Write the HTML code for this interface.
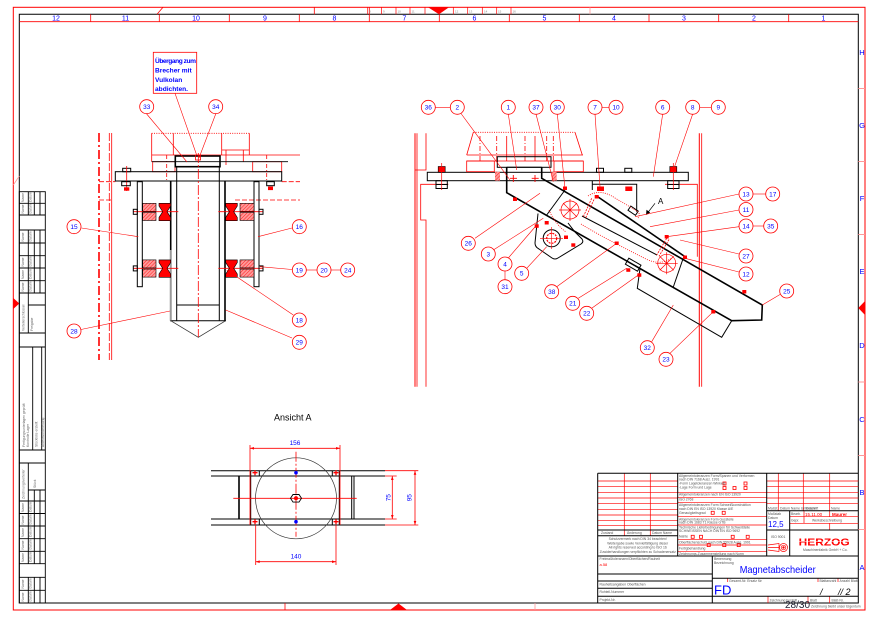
<!DOCTYPE html>
<html><head><meta charset="utf-8">
<style>
html,body{margin:0;padding:0;background:#fff;}
svg{display:block;}
text{font-family:"Liberation Sans",sans-serif;}
.lb circle{fill:#fff;stroke:#f00;stroke-width:0.8;}
.lb text{fill:#00f;font-size:6.5px;text-anchor:middle;}
.ld{stroke:#f00;stroke-width:0.6;fill:none;}
.k{stroke:#000;fill:none;stroke-width:1;}
.kt{stroke:#000;fill:none;stroke-width:1.6;}
.r{stroke:#f00;fill:none;stroke-width:0.8;}
.g{fill:#555;font-size:3.4px;}
.sb{fill:#666;font-size:3.4px;}
</style></head><body>
<svg width="871" height="617" viewBox="0 0 871 617" xmlns="http://www.w3.org/2000/svg">
<defs>
<pattern id="h" width="2.5" height="2.5" patternUnits="userSpaceOnUse" patternTransform="rotate(45)">
<rect width="2.5" height="2.5" fill="#f99"/><line x1="0" y1="0" x2="0" y2="2.5" stroke="#f00" stroke-width="0.8"/>
</pattern>
</defs>
<rect width="871" height="617" fill="#fff"/>

<!-- ===== FRAME ===== -->
<rect x="13.3" y="7.3" width="851.7" height="602.7" fill="none" stroke="#f00" stroke-width="1"/>
<path d="M19.3 14.3H858.3V603H19.3Z" fill="none" stroke="#000" stroke-width="1"/>
<line x1="19.3" y1="21.7" x2="858.3" y2="21.7" stroke="#f00" stroke-width="0.8"/>
<g stroke="#f00" stroke-width="0.8">
<line x1="90.7" y1="14.3" x2="90.7" y2="21.7"/><line x1="159.3" y1="14.3" x2="159.3" y2="21.7"/>
<line x1="229.3" y1="14.3" x2="229.3" y2="21.7"/><line x1="299.3" y1="14.3" x2="299.3" y2="21.7"/>
<line x1="369.3" y1="7.3" x2="369.3" y2="21.7"/><line x1="439.3" y1="14.3" x2="439.3" y2="21.7"/>
<line x1="509.3" y1="14.3" x2="509.3" y2="21.7"/><line x1="579.3" y1="14.3" x2="579.3" y2="21.7"/>
<line x1="649" y1="14.3" x2="649" y2="21.7"/><line x1="718.7" y1="14.3" x2="718.7" y2="21.7"/>
<line x1="788.7" y1="14.3" x2="788.7" y2="21.7"/>
<line x1="314.3" y1="7.3" x2="314.3" y2="14.3"/>
<line x1="157" y1="14.3" x2="163" y2="7.3"/>
<line x1="285" y1="603" x2="285" y2="610"/>
<line x1="535" y1="603" x2="535" y2="610" stroke="#f99"/>
<line x1="590" y1="7.3" x2="590" y2="14.3" stroke="#f99"/>
<line x1="13.3" y1="185" x2="19.3" y2="176" stroke="#f99"/>
</g>
<g fill="#00f" font-size="7px" text-anchor="middle">
<text x="56" y="20.5">12</text><text x="125.5" y="20.5">11</text><text x="196" y="20.5">10</text>
<text x="265" y="20.5">9</text><text x="334.5" y="20.5">8</text><text x="404.5" y="20.5">7</text>
<text x="474.5" y="20.5">6</text><text x="544.5" y="20.5">5</text><text x="614" y="20.5">4</text>
<text x="684" y="20.5">3</text><text x="754" y="20.5">2</text><text x="823.5" y="20.5">1</text>
</g>
<g stroke="#f00" stroke-width="0.7" fill="none">
<path d="M367.7 7.3V14.3M381.5 7.3V14.3M396 7.3V14.3M410 7.3V14.3M425 7.3V14.3M453.3 7.3V14.3M467.7 7.3V14.3M482.3 7.3V14.3M496.7 7.3V14.3M511 7.3V14.3"/>
</g>
<g fill="#888" font-size="3px">
<text x="369" y="12.5">8</text><text x="383" y="12.5">9</text><text x="397.5" y="12.5">10</text><text x="411.5" y="12.5">11</text>
<text x="455" y="12.5">12</text><text x="469" y="12.5">13</text><text x="484" y="12.5">14</text><text x="498" y="12.5">15</text><text x="512.5" y="12.5">16</text>
</g>
<polygon points="428,7.3 449,7.3 439,14.3" fill="#f00"/>
<polygon points="390,610 407,610 398.5,603.5" fill="#f00"/>
<polygon points="13.3,298 13.3,309 19.3,303.5" fill="#f00"/>
<polygon points="865,301 865,315 858.3,308" fill="#f00"/>
<g stroke="#f99" stroke-width="1">
<path d="M858.3 88.5H865M858.3 161.5H865M858.3 234.5H865M858.3 382H865M858.3 455.5H865M858.3 529.5H865"/>
</g>
<g fill="#00f" font-size="7.5px" text-anchor="middle">
<text x="862" y="55">H</text><text x="862" y="128">G</text><text x="862" y="201">F</text><text x="862" y="274">E</text>
<text x="862" y="348">D</text><text x="862" y="422">C</text><text x="862" y="495">B</text><text x="862" y="570">A</text>
</g>

<!-- ===== LEFT SIDEBAR ===== -->
<g stroke="#000" stroke-width="0.9" fill="none">
<rect x="19.3" y="191.7" width="26" height="411.3"/>
<path d="M19.3 203.3H45.3M19.3 215H45.3M19.3 230H45.3M19.3 243H45.3M19.3 255.7H45.3M19.3 268H45.3M19.3 280.7H45.3M19.3 293H45.3M19.3 333H45.3M19.3 347H45.3M19.3 450H45.3M19.3 463H45.3M19.3 501H45.3M19.3 513.5H45.3M19.3 526H45.3M19.3 538.7H45.3M19.3 551.3H45.3M19.3 563.7H45.3M19.3 577.3H45.3M19.3 590.3H45.3"/>
<path d="M28.3 191.7V215M34.3 191.7V215M40 191.7V215M28.3 230V293M34.3 230V293M40 230V293"/>
<path d="M28.3 293V333M28.3 305H45.3M32.7 347V450M41.7 347V450M28.3 463V501M28.3 490H45.3M34.3 490V501M40 490V501"/>
<path d="M28.3 501V563.7M34.3 501V563.7M40 501V563.7M28.3 577.3V603M34.3 577.3V603M40 577.3V603"/>
</g>
<g class="sb">
<text transform="translate(24,202) rotate(-90)">Name</text><text transform="translate(31.5,202) rotate(-90)">Datum</text>
<text transform="translate(24,213.5) rotate(-90)">Name</text><text transform="translate(31.5,213.5) rotate(-90)">Datum</text>
<text transform="translate(24,241.5) rotate(-90)">Name</text><text transform="translate(31.5,241.5) rotate(-90)">Datum</text>
<text transform="translate(24,266.5) rotate(-90)">Name</text><text transform="translate(31.5,266.5) rotate(-90)">Datum</text>
<text transform="translate(24,279) rotate(-90)">Name</text><text transform="translate(31.5,279) rotate(-90)">Datum</text>
<text transform="translate(24,291.5) rotate(-90)">Name</text><text transform="translate(31.5,291.5) rotate(-90)">Datum</text>
<text transform="translate(24.5,331) rotate(-90)">Verteilerschlüssel</text><text transform="translate(33,331) rotate(-90)">Freigabe</text>
<text transform="translate(25,447) rotate(-90)">Fertigungsunterlagen geprüft</text><text transform="translate(29,447) rotate(-90)">Kontrolle Lager</text>
<text transform="translate(37.5,447) rotate(-90)">Stückliste erstellt</text><text transform="translate(44,447) rotate(-90)">Arbeitsvorbereitung</text>
<text transform="translate(24.5,499) rotate(-90)">Zeichnungsverteiler</text><text transform="translate(36,488) rotate(-90)">Stück</text>
<text transform="translate(24,512) rotate(-90)">Name</text><text transform="translate(31.5,512) rotate(-90)">Datum</text>
<text transform="translate(24,524.5) rotate(-90)">Name</text><text transform="translate(31.5,524.5) rotate(-90)">Datum</text>
<text transform="translate(24,537) rotate(-90)">Name</text><text transform="translate(31.5,537) rotate(-90)">Datum</text>
<text transform="translate(24,549.5) rotate(-90)">Name</text><text transform="translate(31.5,549.5) rotate(-90)">Datum</text>
<text transform="translate(24,562) rotate(-90)">Name</text><text transform="translate(31.5,562) rotate(-90)">Datum</text>
<text transform="translate(24,588.5) rotate(-90)">Name</text><text transform="translate(31.5,588.5) rotate(-90)">Datum</text>
<text transform="translate(24,601.5) rotate(-90)">Name</text><text transform="translate(31.5,601.5) rotate(-90)">Datum</text>
</g>

<!-- ===== LEFT DRAWING ===== -->
<rect x="153.3" y="52.3" width="43.4" height="41" fill="#fff" stroke="#f00" stroke-width="0.8"/>
<g fill="#00f" font-size="6.6px" font-weight="bold">
<text x="155" y="63" textLength="41">Übergang zum</text>
<text x="155" y="72.5">Brecher mit</text>
<text x="155" y="81.8">Vulkolan</text>
<text x="155" y="91">abdichten.</text>
</g>
<line class="ld" x1="175" y1="93.3" x2="197" y2="156"/>
<line x1="99" y1="133" x2="99" y2="360" stroke="#f00" stroke-width="1.6" stroke-dasharray="9,3,2,3"/>
<line x1="109.3" y1="133" x2="109.3" y2="360" stroke="#f00" stroke-width="0.8" stroke-dasharray="8,2"/>
<line x1="111.7" y1="133" x2="111.7" y2="360" stroke="#f00" stroke-width="0.8"/>
<g stroke="#f00" stroke-width="0.8" stroke-dasharray="5,2">
<line x1="99" y1="181.7" x2="115.3" y2="181.7"/><line x1="99" y1="200" x2="112" y2="200"/>
<line x1="281.7" y1="181.7" x2="300" y2="181.7"/><line x1="235" y1="200" x2="300" y2="200"/>
</g>
<line x1="151.7" y1="133.3" x2="249.3" y2="133.3" stroke="#f00" stroke-width="0.9" stroke-dasharray="1,1.3"/>
<g class="r">
<path d="M151.7 133.3V161.7M173.3 133.3V155M221.7 133.3V155M249.3 133.3V155M221.7 150H249.3M243.3 150V161.7M226 150V165"/>
<line x1="151.7" y1="155" x2="300" y2="155"/>
<rect x="152.7" y="161.7" width="22.3" height="10"/>
<rect x="252.7" y="161.7" width="29" height="10"/>
<path d="M166.7 155V181.7M266.7 155V181.7" stroke-dasharray="4,2,1,2"/>
</g>
<line x1="151.7" y1="161.7" x2="288" y2="161.7" stroke="#000" stroke-width="0.8"/>
<rect x="175.3" y="156" width="44.7" height="10.7" class="kt"/>
<rect x="115.3" y="171.7" width="166.4" height="9.3" class="k"/>
<rect x="122.7" y="168.3" width="8" height="3.4" class="k"/>
<line x1="126.7" y1="166" x2="126.7" y2="191" stroke="#f00" stroke-width="0.8"/>
<rect x="121.7" y="181.7" width="8.6" height="4" class="k"/>
<rect x="124" y="187.3" width="5.3" height="3.4" fill="#f00"/>
<rect x="266.7" y="181.7" width="7.6" height="4" class="k"/>
<rect x="268" y="186.5" width="5" height="3.6" fill="#f00"/>
<rect x="137.3" y="181.7" width="5" height="105" class="k"/>
<rect x="254" y="181.7" width="5" height="105" class="k"/>
<path d="M170.7 181V320.7M225 181V320.7" class="kt"/>
<path d="M176.7 166.7V320.7M219.3 166.7V320.7M176.7 305H219.3M170 320.7H226" class="k"/>
<line x1="170.7" y1="250" x2="170.7" y2="320.7" stroke="#aaa" stroke-width="1.2"/>
<path d="M170.7 320.7L198.3 337.3L225.7 320.7" stroke="#333" stroke-width="0.8" fill="none"/>
<line x1="198.3" y1="153" x2="198.3" y2="337" stroke="#f00" stroke-width="0.8" stroke-dasharray="10,2,2,2"/>
<rect x="195.5" y="155" width="5" height="5" fill="none" stroke="#f00" stroke-width="0.8"/>
<g id="rollersL">
<line x1="133.3" y1="211.7" x2="178.3" y2="211.7" stroke="#f00" stroke-width="0.8"/>
<rect x="142.7" y="203.3" width="13.3" height="8" fill="url(#h)" stroke="#000" stroke-width="0.6"/>
<rect x="142.7" y="212.5" width="13.3" height="8" fill="url(#h)" stroke="#000" stroke-width="0.6"/>
<path d="M159 203.3H170.7V206L167 211.7L170.7 217.4V220.7H159V217.4L162.7 211.7L159 206Z" fill="#f00" stroke="#000" stroke-width="0.6"/>
<rect x="133.3" y="209.3" width="4" height="5" class="k" stroke-width="0.6"/>
<line x1="218.3" y1="211.7" x2="263.3" y2="211.7" stroke="#f00" stroke-width="0.8"/>
<path d="M225.7 203.3H237.3V206L233.7 211.7L237.3 217.4V220.7H225.7V217.4L229.4 211.7L225.7 206Z" fill="#f00" stroke="#000" stroke-width="0.6"/>
<rect x="240" y="203.3" width="14" height="8" fill="url(#h)" stroke="#000" stroke-width="0.6"/>
<rect x="240" y="212.5" width="14" height="8" fill="url(#h)" stroke="#000" stroke-width="0.6"/>
<rect x="259" y="209.3" width="4" height="5" class="k" stroke-width="0.6"/>
</g>
<use href="#rollersL" transform="translate(0,56.6)"/>
<g class="ld">
<line x1="146.7" y1="114" x2="187" y2="162"/><line x1="215.7" y1="114" x2="199" y2="158"/>
<line x1="81.5" y1="228" x2="138.3" y2="236.7"/><line x1="292" y1="228" x2="258" y2="236.7"/>
<line x1="292" y1="269.5" x2="260" y2="266.7"/><line x1="306" y1="270" x2="317" y2="270"/><line x1="331" y1="270" x2="340.7" y2="270"/>
<line x1="293.3" y1="315" x2="226.7" y2="270"/>
<line x1="81" y1="329.5" x2="170" y2="311"/><line x1="292" y1="338" x2="225.7" y2="310"/>
</g>
<g class="lb">
<circle cx="146.7" cy="106.7" r="7"/><text x="146.7" y="109">33</text>
<circle cx="215.7" cy="106.7" r="7"/><text x="215.7" y="109">34</text>
<circle cx="74" cy="226.7" r="7"/><text x="74" y="229">15</text>
<circle cx="299.3" cy="226.7" r="7"/><text x="299.3" y="229">16</text>
<circle cx="299.3" cy="270" r="7"/><text x="299.3" y="272.3">19</text>
<circle cx="324" cy="270" r="7"/><text x="324" y="272.3">20</text>
<circle cx="347.7" cy="270" r="7"/><text x="347.7" y="272.3">24</text>
<circle cx="299.3" cy="320" r="7"/><text x="299.3" y="322.3">18</text>
<circle cx="74" cy="331" r="7"/><text x="74" y="333.3">28</text>
<circle cx="299.3" cy="342.3" r="7"/><text x="299.3" y="344.6">29</text>
</g>

<!-- ===== RIGHT DRAWING ===== -->
<g class="r">
<line x1="415" y1="133.3" x2="415" y2="386.7" stroke-width="1"/>
<line x1="417" y1="133.3" x2="417" y2="386.7"/>
<polyline points="426,133.3 426,170 415,170"/>
<polyline points="448.3,184.3 420.7,184.3 420.7,220 426,220 426,386.7"/>
<line x1="699.3" y1="133.3" x2="699.3" y2="386.7" stroke-width="1"/>
<line x1="701.7" y1="133.3" x2="701.7" y2="386.7"/>
<polyline points="665,184.3 697.3,184.3 697.3,256.7"/>
</g>
<rect x="427.3" y="172.3" width="261" height="8.4" class="k"/>
<rect x="438.2" y="166.5" width="7" height="5.8" fill="#f00" stroke="#000" stroke-width="0.6"/>
<rect x="436" y="180.7" width="11.3" height="3.8" class="k" stroke-width="0.7"/>
<rect x="436" y="184.5" width="11.3" height="4" class="k" stroke-width="0.7"/>
<line x1="441.7" y1="163" x2="441.7" y2="190" stroke="#f00" stroke-width="0.7"/>
<rect x="669.8" y="166.5" width="7" height="5.8" fill="#f00" stroke="#000" stroke-width="0.6"/>
<rect x="667.7" y="180.7" width="11.3" height="3.8" class="k" stroke-width="0.7"/>
<rect x="667.7" y="184.5" width="11.3" height="4" class="k" stroke-width="0.7"/>
<line x1="673.3" y1="163" x2="673.3" y2="190" stroke="#f00" stroke-width="0.7"/>
<rect x="596.5" y="168.3" width="7" height="4" class="k" stroke-width="0.7"/>
<rect x="597" y="186.5" width="7" height="4.5" fill="#f00"/>
<rect x="624.8" y="168.3" width="7" height="4" class="k" stroke-width="0.7"/>
<rect x="625.3" y="186.5" width="7" height="4.5" fill="#f00"/>
<polyline points="592.3,180.7 592.3,190" class="k" stroke-width="0.7"/>
<polyline points="592.3,184.3 636.7,184.3 636.7,211.7" class="k" stroke-width="0.7"/>
<line x1="473.3" y1="132.3" x2="575" y2="132.3" stroke="#f00" stroke-width="0.9" stroke-dasharray="1,1.3"/>
<g class="r">
<path d="M473.3 132.3L466.7 155M575 132.3L582.3 155M466.7 155H583M466.7 161H583"/>
<path d="M480 136V161M496.7 136V161M525 136V161M546.7 136V161M553.3 136V161" stroke-dasharray="5,2,1,2"/>
<path d="M506.7 136V161M535 136V161"/>
<rect x="466.7" y="161" width="27.6" height="10.7"/>
<rect x="554" y="161" width="29.3" height="10.7"/>
</g>
<rect x="497.3" y="156.7" width="53.7" height="10.6" class="k"/>
<rect x="495" y="171.7" width="5" height="9" fill="url(#h)"/>
<rect x="551.7" y="171.7" width="5" height="9" fill="url(#h)"/>
<path d="M506.7 167.3V192.7L731.7 320.7L761.7 320L762.3 305L541.7 178.3V167.3" class="kt"/>
<line x1="506.7" y1="167.3" x2="541.7" y2="167.3" class="k"/>
<g class="k" stroke-width="0.8">
<line x1="565" y1="190" x2="546.7" y2="215"/>
<line x1="683.3" y1="258" x2="673.3" y2="287"/>
<polyline points="640,268.5 637.3,288.3 721.7,337.3 731.7,320.7"/>
<rect x="626.5" y="261" width="14" height="7" transform="rotate(30 633 264)"/>
</g>
<path d="M510 178.3h7M513.3 175v7M531.7 178.3h7M535 175v7" stroke="#f00" stroke-width="0.9"/>
<line x1="596.7" y1="196" x2="685" y2="256.7" class="kt"/>
<line x1="582" y1="216" x2="657" y2="255" class="k" stroke-width="0.8"/>
<rect x="629" y="208" width="9" height="5" class="k" stroke-width="0.8" transform="rotate(34 633 210)"/>
<path d="M591.7 198.3L583.3 216.7M594 199.5L585.6 218" stroke="#f00" stroke-width="0.8" stroke-dasharray="2,1"/>
<path d="M666.7 238.3L656.7 255M669 239.5L659 256.2" stroke="#f00" stroke-width="0.8" stroke-dasharray="2,1"/>
<path d="M588 196Q600 188 615 198L637 211Q641 214 638 218M581 224Q600 236 646 259Q660 266 672 258M549 210Q555 224 566 232" stroke="#f00" stroke-width="0.8" fill="none" stroke-dasharray="1,1.2"/>
<g stroke="#f00" stroke-width="0.7" fill="none">
<circle cx="570" cy="210" r="9"/><path d="M559 210H581M570 199V221M563 203L577 217M577 203L563 217"/>
<circle cx="666.7" cy="263.3" r="9"/><path d="M655.7 263.3H677.7M666.7 252.3V274.3M659.7 256.3L673.7 270.3M673.7 256.3L659.7 270.3"/>
</g>
<path d="M538 213.5L535 243Q535 247 539 249L552 258Q555 260 558 258L581 244Q584 242 582 239L575 232L568 223" class="k" stroke-width="0.8"/>
<circle cx="551.7" cy="238.3" r="8.5" class="k" stroke-width="0.8"/>
<circle cx="551.7" cy="238.3" r="5" fill="none" stroke="#f00" stroke-width="1.2" stroke-dasharray="2,1"/>
<path d="M540 238.3H563M551.7 227V249" stroke="#f00" stroke-width="0.6"/>
<g fill="#f00">
<rect x="563" y="186.5" width="4" height="3.5"/><rect x="513" y="197.5" width="4" height="3.5"/>
<rect x="742.3" y="290" width="4" height="3.5"/><rect x="711.3" y="310" width="4" height="3.5"/>
<rect x="683" y="255.5" width="4" height="3.5"/><rect x="664.7" y="235" width="4" height="3.5"/>
<rect x="594.7" y="195" width="4" height="3.5"/><rect x="614.7" y="241.5" width="4" height="3.5"/>
<rect x="626.3" y="268.3" width="4" height="3.5"/><rect x="637.3" y="273.3" width="4" height="3.5"/>
<rect x="534.7" y="224.3" width="4" height="3.5"/><rect x="544.7" y="221" width="4" height="3.5"/>
<rect x="571.3" y="243.3" width="4" height="3.5"/><rect x="564" y="235.5" width="4" height="3.5"/>
</g>
<line x1="655" y1="203.3" x2="647.5" y2="213" stroke="#000" stroke-width="0.7"/>
<polygon points="646,215 646.5,209.8 650.2,212.5" fill="#000"/>
<text x="658" y="204" font-size="8px" fill="#000">A</text>
<g class="ld">
<line x1="435.3" y1="107.3" x2="450.3" y2="107.3"/>
<line x1="461" y1="113.5" x2="510" y2="180"/>
<line x1="508.3" y1="114" x2="516.7" y2="170"/>
<line x1="536" y1="114" x2="553.3" y2="181.7"/>
<line x1="557.3" y1="114" x2="565" y2="188.3"/>
<line x1="602" y1="107.3" x2="609" y2="107.3"/>
<line x1="595" y1="114" x2="600" y2="186.7"/>
<line x1="662.7" y1="114" x2="653.3" y2="176.7"/>
<line x1="699.7" y1="107.3" x2="711.3" y2="107.3"/>
<line x1="692.7" y1="114" x2="674" y2="168.3"/>
<line x1="753" y1="194" x2="765.7" y2="194"/>
<line x1="739" y1="194" x2="635" y2="216.7"/>
<line x1="739" y1="210" x2="650" y2="226.7"/>
<line x1="753" y1="226" x2="763.7" y2="226"/>
<line x1="739" y1="226.7" x2="666.7" y2="236.7"/>
<line x1="739" y1="254" x2="680" y2="240"/>
<line x1="739" y1="272" x2="685" y2="258.3"/>
<line x1="780" y1="294.5" x2="762.3" y2="305"/>
<line x1="475" y1="238.3" x2="540" y2="193.3"/>
<line x1="493.3" y1="250" x2="543.3" y2="218.3"/>
<line x1="508.3" y1="258" x2="536.7" y2="225"/>
<line x1="505" y1="271" x2="505" y2="279.7"/>
<line x1="526.7" y1="268.3" x2="546.7" y2="246.7"/>
<line x1="556.7" y1="286.7" x2="616.7" y2="243.3"/>
<line x1="578.3" y1="298.3" x2="626.7" y2="268.3"/>
<line x1="591.7" y1="308.3" x2="638.3" y2="275"/>
<line x1="651.7" y1="341.7" x2="673.3" y2="305"/>
<line x1="670" y1="353.3" x2="713.3" y2="311.7"/>
</g>
<g class="lb">
<circle cx="428.3" cy="107.3" r="7"/><text x="428.3" y="109.6">36</text>
<circle cx="457.3" cy="107.3" r="7"/><text x="457.3" y="109.6">2</text>
<circle cx="508.3" cy="107.3" r="7"/><text x="508.3" y="109.6">1</text>
<circle cx="536" cy="107.3" r="7"/><text x="536" y="109.6">37</text>
<circle cx="557.3" cy="107.3" r="7"/><text x="557.3" y="109.6">30</text>
<circle cx="595" cy="107.3" r="7"/><text x="595" y="109.6">7</text>
<circle cx="616" cy="107.3" r="7"/><text x="616" y="109.6">10</text>
<circle cx="662.7" cy="107.3" r="7"/><text x="662.7" y="109.6">6</text>
<circle cx="692.7" cy="107.3" r="7"/><text x="692.7" y="109.6">8</text>
<circle cx="718.3" cy="107.3" r="7"/><text x="718.3" y="109.6">9</text>
<circle cx="746" cy="194" r="7"/><text x="746" y="196.3">13</text>
<circle cx="772.7" cy="194" r="7"/><text x="772.7" y="196.3">17</text>
<circle cx="746" cy="209.5" r="7"/><text x="746" y="211.8">11</text>
<circle cx="746" cy="226" r="7"/><text x="746" y="228.3">14</text>
<circle cx="770.7" cy="226" r="7"/><text x="770.7" y="228.3">35</text>
<circle cx="746" cy="256" r="7"/><text x="746" y="258.3">27</text>
<circle cx="746" cy="274" r="7"/><text x="746" y="276.3">12</text>
<circle cx="786.7" cy="291" r="7"/><text x="786.7" y="293.3">25</text>
<circle cx="468.3" cy="243.3" r="7"/><text x="468.3" y="245.6">26</text>
<circle cx="488.3" cy="254" r="7"/><text x="488.3" y="256.3">3</text>
<circle cx="505" cy="264" r="7"/><text x="505" y="266.3">4</text>
<circle cx="505" cy="286.7" r="7"/><text x="505" y="289">31</text>
<circle cx="521.7" cy="273.3" r="7"/><text x="521.7" y="275.6">5</text>
<circle cx="551.7" cy="291.7" r="7"/><text x="551.7" y="294">38</text>
<circle cx="572.7" cy="303.3" r="7"/><text x="572.7" y="305.6">21</text>
<circle cx="586.7" cy="313.3" r="7"/><text x="586.7" y="315.6">22</text>
<circle cx="647.3" cy="347.7" r="7"/><text x="647.3" y="350">32</text>
<circle cx="666" cy="359.3" r="7"/><text x="666" y="361.6">23</text>
</g>

<!-- ===== ANSICHT A ===== -->
<text x="274" y="420.5" font-size="9px" fill="#000">Ansicht A</text>
<g class="k" stroke-width="0.9">
<path d="M211 470.7H385M211 476H385M211 519H385M211 525H385"/>
<path d="M250.7 470.7V525M339.3 470.7V525M351.7 476V519M354 476V519"/>
<path d="M259.3 470.7V476M259.3 519V525M332.3 470.7V476M332.3 519V525"/>
</g>
<line x1="239" y1="476" x2="239" y2="519" stroke="#000" stroke-width="1.6"/>
<circle cx="296" cy="498.3" r="40.5" fill="none" stroke="#333" stroke-width="0.7"/>
<g stroke="#f00" stroke-width="0.8">
<line x1="233.3" y1="498.3" x2="356.7" y2="498.3"/>
<line x1="296" y1="451.7" x2="296" y2="536.7" stroke-dasharray="10,2,2,2"/>
<path d="M250 445V525M340 445V525M250 448.3H340"/>
<path d="M255.7 525V565M336 525V565M255.7 561.7H336"/>
<path d="M385 476H396.7M385 519H396.7M392.3 476V519"/>
<path d="M385 470.7H418.3M385 525H418.3M415 470.7V525"/>
</g>
<g fill="#f00">
<polygon points="250,448.3 254,447 254,449.6"/><polygon points="340,448.3 336,447 336,449.6"/>
<polygon points="255.7,561.7 259.7,560.4 259.7,563"/><polygon points="336,561.7 332,560.4 332,563"/>
<polygon points="392.3,476 391,480 393.6,480"/><polygon points="392.3,519 391,515 393.6,515"/>
<polygon points="415,470.7 413.7,474.7 416.3,474.7"/><polygon points="415,525 413.7,521 416.3,521"/>
</g>
<polygon points="293,494.5 299,494.5 301.5,498.3 299,502.1 293,502.1 290.5,498.3" fill="none" stroke="#000" stroke-width="0.9"/>
<circle cx="296" cy="498.3" r="2" fill="#f00"/>
<g stroke="#f00" stroke-width="1.3">
<path d="M252.5 472.7h5M255 470.2v5M333.5 472.7h5M336 470.2v5M252.5 521.7h5M255 519.2v5M333.5 521.7h5M336 519.2v5"/>
</g>
<circle cx="296" cy="472.7" r="1.8" fill="#00f"/><circle cx="296" cy="521.7" r="1.8" fill="#00f"/>
<g fill="#00f" font-size="6.5px" text-anchor="middle">
<text x="295" y="445">156</text><text x="296" y="558.5">140</text>
<text transform="translate(390.5,497.7) rotate(-90)">75</text>
<text transform="translate(411.5,497.7) rotate(-90)">95</text>
</g>

<!-- ===== TITLE BLOCK ===== -->
<g stroke="#f00" stroke-width="0.7">
<path d="M597.7 481H677.7M597.7 486.7H677.7M597.7 492.3H677.7M597.7 498H677.7M597.7 503.7H677.7M597.7 509.3H677.7M597.7 515H677.7M597.7 520.7H677.7M597.7 525.7H677.7"/>
<path d="M624.3 473.3V535.7M650.3 473.3V535.7"/>
<path d="M677.7 492.3H766.7M677.7 497.3H766.7M677.7 502.3H766.7M677.7 516.7H766.7M677.7 525H766.7M677.7 539.3H766.7M677.7 545H766.7M677.7 551.7H766.7"/>
<path d="M766.7 481H858.3M766.7 486.7H858.3M766.7 492.3H858.3M766.7 498H858.3M766.7 503.7H858.3"/>
<path d="M778.3 473.3V510.7M803.3 473.3V510.7M829.7 473.3V510.7"/>
<path d="M789.7 516.7H858.3M789.7 523.3H858.3M804 510.7V523.3M829.7 510.7V516.7M829.7 523.3V530"/>
<path d="M727.7 578.3V582M818 578.3V582M838 578.3V582M768 596.3V603M808 596.3V603M829.7 596.3V603"/>
</g>
<g stroke="#000" stroke-width="1" fill="none">
<path d="M597.7 473.3H858.3M597.7 473.3V603"/>
<path d="M677.7 473.3V556M766.7 473.3V556M712.3 556V603"/>
<path d="M597.7 530H677.7M597.7 535.7H677.7M597.7 556H858.3M597.7 574H712.3M597.7 581H712.3M597.7 588.3H712.3M597.7 596.3H858.3M712.3 578.3H858.3"/>
<path d="M766.7 510.7H858.3M766.7 530H858.3M789.7 510.7V556"/>
</g>
<g fill="none" stroke="#f00" stroke-width="0.8">
<rect x="723" y="482" width="3" height="3"/><rect x="723" y="486.5" width="3" height="3"/><rect x="733" y="486.5" width="3" height="3"/>
<rect x="744" y="482" width="3" height="3"/><rect x="744" y="486.5" width="3" height="3"/>
<rect x="711.2" y="511.3" width="3" height="3"/><rect x="722.2" y="511.3" width="3" height="3"/>
<rect x="691.2" y="535.3" width="3" height="3"/><rect x="699.5" y="535.3" width="3" height="3"/><rect x="731.2" y="535.3" width="3" height="3"/><rect x="746.2" y="535.3" width="3" height="3"/>
<rect x="707.2" y="543.6" width="3" height="3"/><rect x="722.8" y="543.6" width="3" height="3"/><rect x="737.2" y="543.6" width="3" height="3"/>
</g>
<g class="g">
<text x="679" y="477">Allgemeintoleranzen Form/Spanen und Verformen</text>
<text x="679" y="480.5">nach DIN 7168 Ausz. 1991</text>
<text x="679" y="484.5">-Form Lagetoleranzen Winkels</text>
<text x="679" y="488.7">-Lage Form und Lage</text>
<text x="679" y="495.5">Allgemeintoleranzen nach EN ISO 13920</text>
<text x="679" y="500.5">ISO 2768</text>
<text x="679" y="506">Allgemeintoleranzen Form Schweißkonstruktion</text>
<text x="679" y="510">nach DIN EN ISO 13920 Klasse A/E</text>
<text x="679" y="514">Genauigkeitsgrad</text>
<text x="679" y="520.5">Allgemeintoleranzen Form Gussteile</text>
<text x="679" y="523.7">nach DIN 1683 T1 Klasse GTB</text>
<text x="679" y="528.5">Technische Lieferbedingungen für Schweißteile</text>
<text x="679" y="532">SCHWEISSEN NACH DIN EN ISO 9692</text>
<text x="679" y="537.7">Nahte</text>
<text x="679" y="543.5">Oberflächenschutz nach DIN 55928 Ausg. 1991</text>
<text x="679" y="549.5">Fertigbehandlung</text>
<text x="679" y="555">Zeichnungs-Zusammenstellung nach Norm</text>
<text x="601" y="534">Zustand</text><text x="627" y="534">Änderung</text><text x="652" y="534">Datum Name</text>
<text x="637.7" y="540" text-anchor="middle">Schutzvermerk nach DIN 34 beachten!</text>
<text x="637.7" y="544.3" text-anchor="middle">Weitergabe sowie Vervielfältigung dieser</text>
<text x="637.7" y="548.6" text-anchor="middle">All rights reserved according to ISO 16</text>
<text x="637.7" y="552.9" text-anchor="middle">Zuwiderhandlungen verpflichten zu Schadenersatz</text>
<text x="599.5" y="560">Freimaßtoleranzen/Oberflächen/Rauheit</text>
<text x="599.5" y="585.5">Rauheitsangaben Oberflächen</text>
<text x="599.5" y="593">Rohteil-Nummer</text>
<text x="599.5" y="600.8">Projekt-Nr.</text>
<text x="714" y="560">Benennung</text><text x="714" y="564">Bezeichnung</text>
<text x="729" y="582">Gesamt-Nr. Ersatz für</text>
<text x="819.5" y="582">Blattanzahl</text><text x="839.5" y="582">Anzahl Blatt</text>
<text x="768" y="509.5">Maßst.</text><text x="780" y="509.5">Datum Name Unterschrift</text><text x="806" y="509.5">Datum</text><text x="831" y="509.5">Name</text>
<text x="768" y="515">Maßstab</text><text x="768" y="519">Datum</text>
<text x="791" y="515">Bearb.</text><text x="791" y="521.7">Gepr.</text><text x="812" y="521.7">Werksbeschreibung</text>
<text x="771" y="538">ISO 9001</text>
<text x="803" y="551">Maschinenfabrik GmbH + Co.</text>
<text x="769.5" y="601.3">Zeichnung bestellt</text><text x="810" y="601.3">Blatt</text><text x="831.5" y="601.3">Blatt-Nr.</text>
<text x="811" y="607.6">Zeichnung bleibt unser Eigentum</text>
</g>
<text x="599.5" y="566" font-size="4px" fill="#f00">a.58</text>
<text x="805" y="516" font-size="4.5px" fill="#f00">15.11.00</text>
<text x="832" y="516" font-size="4.5px" fill="#f00" font-weight="bold">Maurer</text>
<text x="768" y="527" font-size="8px" fill="#00f">12,5</text>
<text x="798.7" y="545.5" font-size="10px" font-weight="bold" fill="#f00" textLength="51" lengthAdjust="spacingAndGlyphs">HERZOG</text>
<line x1="799" y1="541.5" x2="850" y2="541.5" stroke="#fff" stroke-width="0.6"/>
<g stroke="#f00" stroke-width="0.7" fill="none">
<path d="M768 545L779 543.5V551.5L768 550M768 547.5H779"/>
<circle cx="783.5" cy="547.5" r="4"/><circle cx="783.5" cy="547.5" r="2.3"/>
</g>
<circle cx="783.5" cy="547.5" r="1.2" fill="#f00"/>
<text x="739.7" y="573" font-size="10.5px" fill="#00f" textLength="76" lengthAdjust="spacingAndGlyphs">Magnetabscheider</text>
<text x="714" y="594.5" font-size="13px" fill="#00f">FD</text>
<text x="820" y="595" font-size="9px" fill="#000" font-style="italic">/</text>
<text x="838" y="595" font-size="9px" fill="#000" font-style="italic">// 2</text>
<text x="785" y="608" font-size="10px" fill="#223">28/30</text>
</svg>
</body></html>
